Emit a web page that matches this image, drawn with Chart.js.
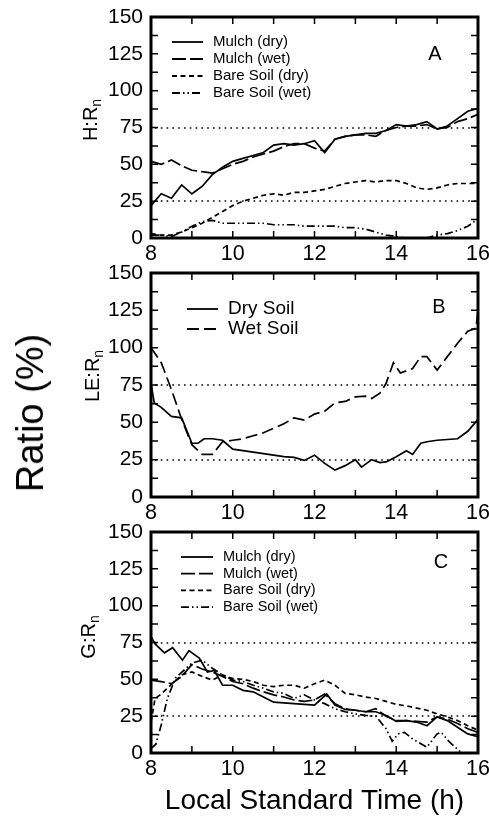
<!DOCTYPE html>
<html><head><meta charset="utf-8">
<script src="https://cdn.jsdelivr.net/npm/chart.js@4.4.0/dist/chart.umd.min.js"></script>
<style>
html,body{margin:0;padding:0;background:#fff;width:489px;height:818px;overflow:hidden;}
.wrap{position:absolute;left:0;width:489px;}
#ratio{position:absolute;left:29.5px;top:413px;transform:translate(-50%,-50%) rotate(-90deg);font:38px "Liberation Sans",Arial,sans-serif;line-height:1;white-space:nowrap;color:#000;}
</style></head><body>
<div class="wrap" style="top:0;height:262px"><canvas id="cA"></canvas></div>
<div class="wrap" style="top:256px;height:265px"><canvas id="cB"></canvas></div>
<div class="wrap" style="top:515px;height:303px"><canvas id="cC"></canvas></div>
<div id="ratio">Ratio (%)</div>
<script>
// ---------- DATA ----------
const hours = [8,8.25,8.5,8.75,9,9.25,9.5,9.75,10,10.25,10.5,10.75,11,11.25,11.5,11.75,12,12.25,12.5,12.75,13,13.25,13.5,13.75,14,14.25,14.5,14.75,15,15.25,15.5,15.75,16];
const xTickLabels = [8,10,12,14,16];
const yTickLabels = [0,25,50,75,100,125,150];
const xMinorTicks = [8,9,10,11,12,13,14,15,16];
const yMinorTicks = [0,12.5,25,37.5,50,62.5,75,87.5,100,112.5,125,137.5,150];
const referenceLevels = [25,75];

// Panel A  H:Rn
const hMulchDry = [22,30,27,36,30,35,43,48,52,54,56,58,63,64,63,64,66,58,67,69,70,71,71,73,77,76,77,79,74,76,81,86,88];
const hMulchWet = [52,50,53,49,46,45,44,47,50,52,55,57,59,62,64,64,61,59,67,69,70,70,69,73,75,76,76,77,74,75,79,81,84];
const hBareDry  = [3,2,2,4,7,10,14,18,22,25,27,29,30,29,31,31,32,33,35,37,38,39,38,39,39,37,34,33,34,36,37,37,37];
const hBareWet  = [2,2,1,4,8,11,12,10,10,10,10,10,9,9,9,8,8,8,8,7,7,6,4,2,1,0,0,0,2,3,5,8,13];

// Panel B  LE:Rn
const leDryHours = [8,8.08,8.25,8.5,8.75,9,9.15,9.3,9.5,9.75,10,10.25,10.5,10.75,11,11.25,11.5,11.75,12,12.25,12.5,12.75,13,13.15,13.4,13.6,13.75,14,14.25,14.4,14.6,14.75,15,15.25,15.5,15.75,16];
const leDrySoil  = [76,63,60,54,53,36,36,39,39,38,32,31,30,29,28,27,26.5,24.5,28,22.5,18,21,25,20,25,23,23.5,27,31,28.5,36,37,38,38.5,39,44,52];
const leWetHours = [8,8.25,8.5,8.75,9,9.25,9.5,9.75,10,10.25,10.5,10.75,11,11.25,11.5,11.75,12,12.25,12.5,12.75,13,13.25,13.4,13.6,13.75,13.93,14.1,14.4,14.6,14.75,15,15.25,15.5,15.75,15.95,16];
const leWetSoil  = [100,90,72,52,35,28.5,28.5,37,38,39,41,43,46,49,53,51.5,55.5,57.5,63,64,67,67.5,66,69.5,76,90,83,86,94,94,85,94,103,111,113,125];

// Panel C  G:Rn
const gMulchDryHours = [8,8.1,8.33,8.53,8.77,8.93,9.18,9.38,9.55,9.75,10,10.25,10.5,10.75,11,11.25,11.5,11.75,12,12.3,12.5,12.75,13,13.25,13.5,13.75,14,14.25,14.5,14.75,15,15.25,15.5,15.75,16];
const gMulchDry = [79,74,68,71.5,63,69.5,64.5,55,56,46,46,42.5,41.5,38,34.5,34,33.5,33,32.5,40,32.5,29.5,29,28,28,25.5,21.5,22,21,18.5,24.5,22,17.5,13,11];
const gMulchWet = [49.5,48.5,47,52,60,57,55,52,48.5,47,44,41.5,39.5,38,36,35,36,40,33.5,30,29,28,30,25,22,22,21.5,21,24.5,23,20,16.5,14];
const gBareDryHours = [8,8.1,8.25,8.5,8.75,9,9.25,9.5,9.75,10,10.25,10.5,10.75,11,11.25,11.5,11.75,12,12.25,12.5,12.75,13,13.25,13.5,13.75,14,14.25,14.5,14.75,15,15.25,15.5,15.75,16];
const gBareDry = [21,37,40,46.5,53,55,52,49.5,53,50.5,50,48.5,46,45,46,46,44,47,49.5,46,40.5,39.5,38,37,35,33,32,30.5,29,26.5,24.5,22,18.5,15.5];
const gBareWetHours = [8,8.12,8.25,8.4,8.6,9,9.25,9.5,9.75,10,10.25,10.5,10.75,11,11.25,11.5,11.75,12,12.25,12.5,12.75,13,13.25,13.5,13.75,13.9,14.05,14.2,14.4,14.75,15,15.1,15.3,15.6];
const gBareWet = [3,6,19,37,51,61,63,57.5,53,49.5,48.5,46,44,41.5,40.5,37,39.5,36,33.5,30,28,26.5,25.5,25,16.5,8,13,14,9.5,4,13,14,7.5,0];

// ---------- RENDERING ----------
const FONT = '"Liberation Sans", Arial, Helvetica, sans-serif';
const pts = (xs, ys) => xs.map((x, i) => ({x: x, y: ys[i]}));
const STYLE = {
  solid: [],
  longDash: [14, 4],
  shortDash: [5, 3.5],
  dashDotDot: [8, 3, 1.5, 3, 1.5, 3]
};
function ds(label, xs, ys, dash) {
  return {label, data: pts(xs, ys), borderColor: '#000', borderWidth: 1.7, borderDash: dash,
          pointRadius: 0, tension: 0, fill: false};
}

const framePlugin = {
  id: 'frame',
  beforeDatasetsDraw(chart, args, o) {
    const {ctx, chartArea: a, scales: {y}} = chart;
    ctx.save();
    ctx.strokeStyle = '#000'; ctx.lineWidth = 1.6; ctx.setLineDash([1.6, 4.2]);
    for (const v of referenceLevels) {
      const py = Math.round(y.getPixelForValue(v));
      ctx.beginPath(); ctx.moveTo(a.left + 4, py); ctx.lineTo(a.right - 2, py); ctx.stroke();
    }
    ctx.restore();
  },
  afterDatasetsDraw(chart, args, o) {
    const {ctx, chartArea: a, scales: {x, y}} = chart;
    ctx.save();
    ctx.setLineDash([]);
    ctx.strokeStyle = '#000';
    ctx.lineWidth = 3;
    ctx.strokeRect(a.left, a.top, a.right - a.left, a.bottom - a.top);
    ctx.lineWidth = 1.5;
    const tl = 7;
    ctx.beginPath();
    for (const h of xMinorTicks) {
      const px = x.getPixelForValue(h);
      ctx.moveTo(px, a.top); ctx.lineTo(px, a.top + tl);
      ctx.moveTo(px, a.bottom); ctx.lineTo(px, a.bottom - tl);
    }
    for (const v of yMinorTicks) {
      const py = y.getPixelForValue(v);
      ctx.moveTo(a.left, py); ctx.lineTo(a.left + tl, py);
      ctx.moveTo(a.right, py); ctx.lineTo(a.right - tl, py);
    }
    ctx.stroke();

    // panel letter
    ctx.fillStyle = '#000';
    ctx.font = '20px ' + FONT;
    ctx.textAlign = 'center'; ctx.textBaseline = 'middle';
    ctx.fillText(o.letter.text, o.letter.x, o.letter.y);

    // y title with subscript
    const t = o.yTitle;
    ctx.save();
    ctx.translate(t.x, t.cy);
    ctx.rotate(-Math.PI / 2);
    ctx.font = t.size + 'px ' + FONT;
    const wMain = ctx.measureText(t.main).width;
    ctx.font = (t.size * 0.7) + 'px ' + FONT;
    const wSub = ctx.measureText(t.sub).width;
    const start = -(wMain + wSub) / 2;
    ctx.textAlign = 'left'; ctx.textBaseline = 'alphabetic';
    ctx.font = t.size + 'px ' + FONT;
    ctx.fillText(t.main, start, 0);
    ctx.font = (t.size * 0.7) + 'px ' + FONT;
    ctx.fillText(t.sub, start + wMain, t.size * 0.2);
    ctx.restore();

    // legend
    const L = o.legend;
    ctx.font = L.size + 'px ' + FONT;
    ctx.textAlign = 'left'; ctx.textBaseline = 'middle';
    chart.data.datasets.forEach((d, i) => {
      const ly = L.y + i * L.dy;
      ctx.lineWidth = 1.8;
      ctx.setLineDash(d.borderDash || []);
      ctx.beginPath(); ctx.moveTo(L.x, ly); ctx.lineTo(L.x + L.len, ly); ctx.stroke();
      ctx.setLineDash([]);
      ctx.fillText(d.label, L.x + L.len + L.gap, ly);
    });
    ctx.restore();
  }
};

function makeChart(id, datasets, cfg) {
  return new Chart(document.getElementById(id), {
    type: 'line',
    data: {datasets},
    options: {
      responsive: true, maintainAspectRatio: false, animation: false,
      layout: {padding: {top: 17, right: 11, left: 0, bottom: 0}},
      scales: {
        x: {type: 'linear', min: 8, max: 16,
            grid: {display: false, drawTicks: false}, border: {display: false},
            afterBuildTicks: s => { s.ticks = xTickLabels.map(v => ({value: v})); },
            ticks: {padding: 3, color: '#000', font: {family: FONT, size: 21.5}, maxRotation: 0, autoSkip: false},
            title: cfg.xTitle ? {display: true, text: cfg.xTitle, color: '#000', font: {family: FONT, size: 28}, padding: {top: 0, bottom: 0}} : {display: false},
            afterFit: s => { s.height = cfg.xHeight; s.paddingLeft = 0; s.paddingRight = 0; }},
        y: {type: 'linear', min: 0, max: 150,
            grid: {display: false, drawTicks: false}, border: {display: false},
            afterBuildTicks: s => { s.ticks = yTickLabels.map(v => ({value: v})); },
            ticks: {padding: 8, color: '#000', font: {family: FONT, size: 21}},
            afterFit: s => { s.width = 151; s.paddingTop = 0; s.paddingBottom = 0; }}
      },
      plugins: {
        legend: {display: false}, tooltip: {enabled: false},
        frame: {letter: cfg.letter, yTitle: cfg.yTitle, legend: cfg.legend}
      }
    },
    plugins: [framePlugin]
  });
}

makeChart('cA', [
  ds('Mulch (dry)', hours, hMulchDry, STYLE.solid),
  ds('Mulch (wet)', hours, hMulchWet, STYLE.longDash),
  ds('Bare Soil (dry)', hours, hBareDry, STYLE.shortDash),
  ds('Bare Soil (wet)', hours, hBareWet, STYLE.dashDotDot)
], {xHeight: 24, letter: {text: 'A', x: 435, y: 54},
    yTitle: {main: 'H:R', sub: 'n', x: 97, cy: 120, size: 20},
    legend: {x: 172, y: 42, dy: 17, len: 31, gap: 10, size: 15}});

makeChart('cB', [
  ds('Dry Soil', leDryHours, leDrySoil, STYLE.solid),
  ds('Wet Soil', leWetHours, leWetSoil, [12, 5])
], {xHeight: 24, letter: {text: 'B', x: 439, y: 51},
    yTitle: {main: 'LE:R', sub: 'n', x: 99, cy: 120, size: 20},
    legend: {x: 187, y: 53, dy: 20, len: 31, gap: 10, size: 19}});

makeChart('cC', [
  ds('Mulch (dry)', gMulchDryHours, gMulchDry, STYLE.solid),
  ds('Mulch (wet)', hours, gMulchWet, STYLE.longDash),
  ds('Bare Soil (dry)', gBareDryHours, gBareDry, STYLE.shortDash),
  ds('Bare Soil (wet)', gBareWetHours, gBareWet, STYLE.dashDotDot)
], {xHeight: 65, xTitle: 'Local Standard Time (h)', letter: {text: 'C', x: 441, y: 47},
    yTitle: {main: 'G:R', sub: 'n', x: 95, cy: 122, size: 20},
    legend: {x: 181, y: 42, dy: 16.7, len: 32, gap: 10, size: 14.5}});
</script>
</body></html>
